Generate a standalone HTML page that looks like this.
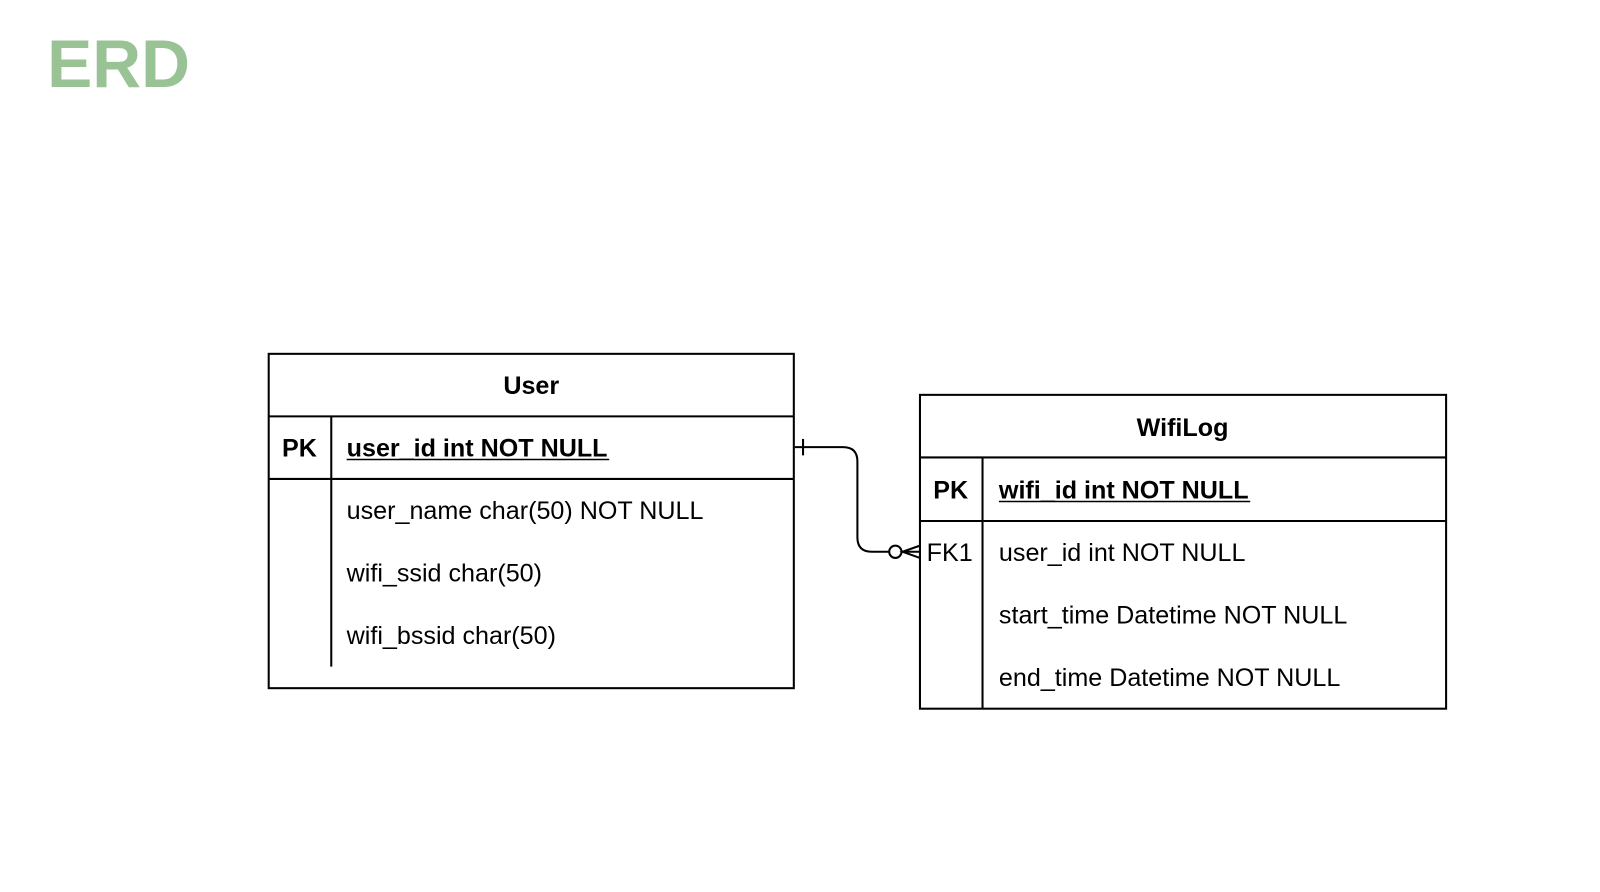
<!DOCTYPE html>
<html><head><meta charset="utf-8"><style>
html,body{margin:0;padding:0;background:#fff;width:1600px;height:892px;overflow:hidden}
</style></head><body>
<svg width="1600" height="892" xmlns="http://www.w3.org/2000/svg" font-family="Liberation Sans, Arial, sans-serif">
<g transform="scale(1.0256)">
<text x="46" y="85" font-size="66" font-weight="bold" font-family="Liberation Sans, sans-serif" fill="#94bf90" opacity="0.95">ERD</text>
<g stroke="#000" stroke-width="2" fill="none">
<rect x="262" y="345" width="512" height="326"/>
<line x1="262" y1="406" x2="774" y2="406"/>
<line x1="262" y1="467" x2="774" y2="467"/>
<line x1="323" y1="406" x2="323" y2="650"/>
<rect x="897" y="385" width="513" height="306"/>
<line x1="897" y1="446" x2="1410" y2="446"/>
<line x1="897" y1="508" x2="1410" y2="508"/>
<line x1="958" y1="446" x2="958" y2="691"/>
<path d="M775 436 H822 Q836 436 836 450 V524 Q836 538 850 538 H867"/>
<line x1="783" y1="428" x2="783" y2="444"/>
<circle cx="873" cy="538" r="6"/>
<path d="M897 532 L880 538 L897 544 M880 538 H897"/>
</g>
<g font-size="24.5" fill="#000">
<text x="518" y="384" text-anchor="middle" font-weight="bold">User</text>
<text x="292" y="445" text-anchor="middle" font-weight="bold">PK</text>
<text x="338" y="445" font-weight="bold">user_id int NOT NULL</text>
<line x1="338" y1="448" x2="594" y2="448" stroke="#000" stroke-width="1.5"/>
<text x="338" y="506">user_name char(50) NOT NULL</text>
<text x="338" y="567">wifi_ssid char(50)</text>
<text x="338" y="628">wifi_bssid char(50)</text>
<text x="1153" y="425" text-anchor="middle" font-weight="bold">WifiLog</text>
<text x="927" y="486" text-anchor="middle" font-weight="bold">PK</text>
<text x="974" y="486" font-weight="bold">wifi_id int NOT NULL</text>
<line x1="974" y1="489" x2="1219" y2="489" stroke="#000" stroke-width="1.5"/>
<text x="926" y="547" text-anchor="middle">FK1</text>
<text x="974" y="547">user_id int NOT NULL</text>
<text x="974" y="608">start_time Datetime NOT NULL</text>
<text x="974" y="669">end_time Datetime NOT NULL</text>
</g>
</g>
</svg>
</body></html>
